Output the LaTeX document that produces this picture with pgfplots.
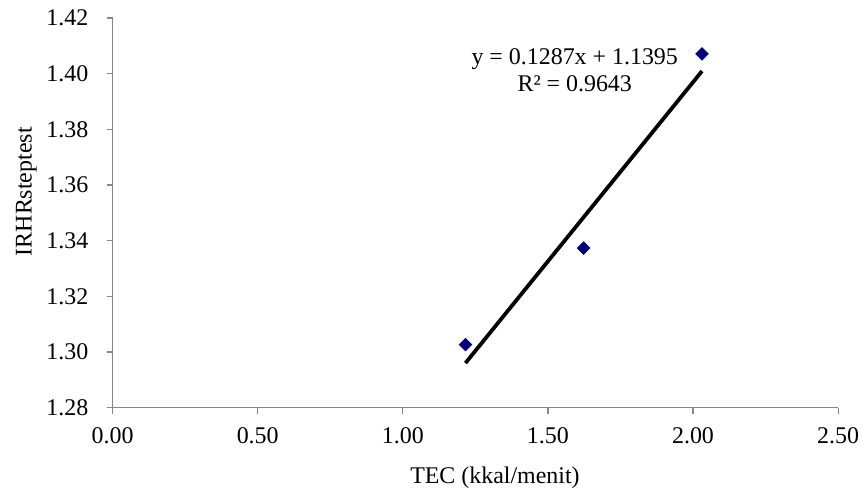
\documentclass[border=0pt]{standalone}
\usepackage{fontspec}
\setmainfont{Liberation Serif}
\usepackage{pgfplots}
\pgfplotsset{compat=1.18}
\definecolor{ptblue}{RGB}{0,0,128}
\definecolor{axgray}{RGB}{134,134,134}

\begin{document}
\fontsize{12}{14}\selectfont
\begin{tikzpicture}
\begin{axis}[
  scale only axis, width=364pt, height=195.5pt,
  xmin=0, xmax=2.5, ymin=1.28, ymax=1.42,
  xtick={0,0.5,...,2.5}, ytick={1.28,1.30,...,1.42},
  axis lines=left, axis line style={axgray, line width=0.6pt, -},
  tick style={axgray, line width=0.6pt},
  tick align=outside, major tick length=3pt,
  xticklabel style={yshift=-3pt, /pgf/number format/.cd, fixed, fixed zerofill, precision=2},
  yticklabel style={xshift=-5pt, /pgf/number format/.cd, fixed, fixed zerofill, precision=2},
  /pgf/number format/assume math mode=true,
  xlabel={TEC (kkal/menit)}, ylabel={IRHRsteptest},
  xlabel style={at={(axis description cs:0.527,-0.18)}, anchor=center},
  ylabel style={at={(axis description cs:-0.119,0.554)}, anchor=center},
  every axis label/.append style={font=\fontsize{12}{14}\selectfont},
  ticklabel style={font=\fontsize{12}{14}\selectfont},
  clip=false]
% data points
\addplot[only marks, mark=square*, mark size=2.2pt, ptblue, mark options={rotate=45, fill=ptblue, draw=ptblue}]
  coordinates {(1.216,1.3026) (1.623,1.3373) (2.031,1.4071)};
% linear trendline end points, y = 0.1287x + 1.1395
\addplot[black, line width=1.9pt, no marks] coordinates {(1.216,1.2960) (2.031,1.4009)};
\node[align=center, font=\fontsize{12}{13.5}\selectfont] at (axis description cs:0.637,0.866)
  {y = 0.1287x + 1.1395\\R² = 0.9643};
% page frame, same margins as the reference
\path (axis description cs:-0.1552,-0.2148) rectangle (axis description cs:1.0357,1.046);
\end{axis}
\end{tikzpicture}
\end{document}
